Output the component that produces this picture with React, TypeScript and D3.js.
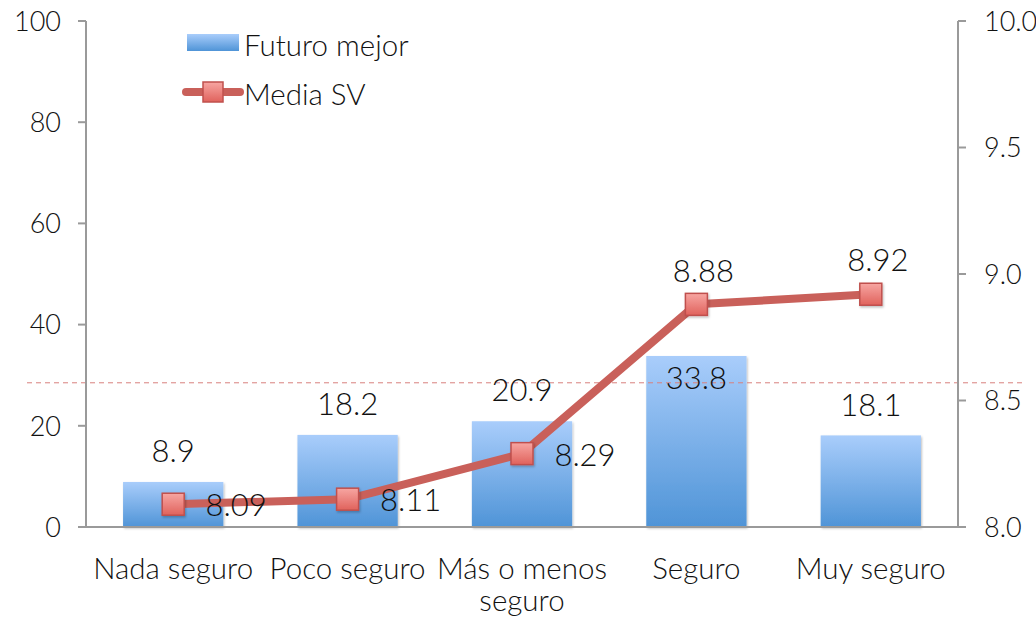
import { scaleBand, scaleLinear, line } from "d3";

const categories = ["Nada seguro", "Poco seguro", "Más o menos seguro", "Seguro", "Muy seguro"];
const futuroMejor = [8.9, 18.2, 20.9, 33.8, 18.1];
const mediaSV = [8.09, 8.11, 8.29, 8.88, 8.92];
const leftTicks = [0, 20, 40, 60, 80, 100];
const rightTicks = [8.0, 8.5, 9.0, 9.5, 10.0];
const referenceValue = 28.5;

const width = 1036;
const height = 623;
const left = 86;
const right = 958;
const top = 21;
const bottom = 527;
const font = "Lato, 'Open Sans', sans-serif";

const App = () => {
  const x = scaleBand().domain(categories).range([left, right]).paddingInner(0.425).paddingOuter(0.2125);
  const yL = scaleLinear().domain([0, 100]).range([bottom, top]);
  const yR = scaleLinear().domain([8, 10]).range([bottom, top]);
  const cx = (c: string) => (x(c) ?? 0) + x.bandwidth() / 2;

  const pts = categories.map((c, i) => [cx(c), yR(mediaSV[i])] as [number, number]);
  const path = line()(pts) ?? "";

  return (
    <svg width={width} height={height} style={{ position: "absolute", left: 0, top: 0 }}>
      <defs>
        <linearGradient id="barGrad" x1="0" y1="0" x2="0" y2="1">
          <stop offset="0%" stopColor="#a9cdfb" />
          <stop offset="100%" stopColor="#4f94d7" />
        </linearGradient>
        <linearGradient id="mkGrad" x1="0" y1="0" x2="0" y2="1">
          <stop offset="0%" stopColor="#f7a6a2" />
          <stop offset="100%" stopColor="#e0625c" />
        </linearGradient>
        <filter id="shadow" x="-20%" y="-20%" width="140%" height="140%">
          <feDropShadow dx="1" dy="1.5" stdDeviation="1.2" floodColor="#000" floodOpacity="0.25" />
        </filter>
      </defs>
      <rect width={width} height={height} fill="#fff" />

      {/* bars */}
      {categories.map((c, i) => (
        <rect
          key={c}
          x={x(c)}
          y={yL(futuroMejor[i])}
          width={x.bandwidth()}
          height={bottom - yL(futuroMejor[i])}
          fill="url(#barGrad)"
          filter="url(#shadow)"
        />
      ))}

      {/* reference dashed line */}
      <line
        x1={27}
        x2={1022}
        y1={yL(referenceValue)}
        y2={yL(referenceValue)}
        stroke="#d9817e"
        strokeWidth={1}
        strokeDasharray="5,4"
      />

      {/* axes */}
      <g stroke="#9a9a9a" strokeWidth={2} fill="none">
        <line x1={left} x2={left} y1={top} y2={bottom} />
        <line x1={right} x2={right} y1={top} y2={bottom} />
        <line x1={left} x2={right} y1={bottom} y2={bottom} />
        {leftTicks.map((t) => (
          <line key={t} x1={left - 8} x2={left} y1={yL(t)} y2={yL(t)} />
        ))}
        {rightTicks.map((t) => (
          <line key={t} x1={right} x2={right + 8} y1={yR(t)} y2={yR(t)} />
        ))}
      </g>
      <g fontFamily={font} fontWeight={300} fontSize={27} fill="#111">
        {leftTicks.map((t) => (
          <text key={t} x={61} y={yL(t)} dy="0.36em" textAnchor="end">
            {t}
          </text>
        ))}
        {rightTicks.map((t) => (
          <text key={t} x={984} y={yR(t)} dy="0.36em">
            {t.toFixed(1)}
          </text>
        ))}
      </g>
      <g fontFamily={font} fontWeight={300} fontSize={29.5} fill="#111">
        {categories.map((c) => {
          const words = c === "Más o menos seguro" ? ["Más o menos", "seguro"] : [c];
          return (
            <text key={c} x={cx(c)} y={579} textAnchor="middle">
              {words.map((w, j) => (
                <tspan key={w} x={cx(c)} dy={j === 0 ? 0 : 32}>
                  {w}
                </tspan>
              ))}
            </text>
          );
        })}
      </g>

      {/* line series */}
      <path d={path} fill="none" stroke="#c9605a" strokeWidth={8} strokeLinejoin="round" />
      {pts.map(([px, py], i) => (
        <rect
          key={i}
          x={px - 11}
          y={py - 11}
          width={22}
          height={22}
          fill="url(#mkGrad)"
          stroke="#c0504d"
          strokeWidth={1.5}
          filter="url(#shadow)"
        />
      ))}

      {/* data labels */}
      <g fontFamily={font} fontWeight={300} fontSize={31} fill="#111">
        {categories.map((c, i) => {
          const inside = i === 3;
          const y = inside ? yL(futuroMejor[i]) + 22 : yL(futuroMejor[i]) - 31;
          return (
            <text key={c} x={cx(c)} y={y} dy="0.36em" textAnchor="middle">
              {futuroMejor[i].toFixed(1)}
            </text>
          );
        })}
        {pts.map(([px, py], i) => {
          const above = i >= 3;
          return (
            <text
              key={i}
              x={above ? px + 7 : px + 63}
              y={above ? py - 34 : py + 1}
              dy="0.36em"
              textAnchor="middle"
            >
              {mediaSV[i].toFixed(2)}
            </text>
          );
        })}
      </g>

      {/* legend */}
      <rect x={187} y={34} width={52} height={17} fill="url(#barGrad)" />
      <line x1={186} x2={240} y1={92} y2={92} stroke="#c9605a" strokeWidth={8} strokeLinecap="round" />
      <rect x={203} y={82} width={20} height={20} fill="url(#mkGrad)" stroke="#c0504d" strokeWidth={1.5} />
      <g fontFamily={font} fontWeight={300} fontSize={29.5} fill="#111">
        <text x={244} y={45} dy="0.36em">Futuro mejor</text>
        <text x={244} y={94} dy="0.36em">Media SV</text>
      </g>
    </svg>
  );
};

export default App;
